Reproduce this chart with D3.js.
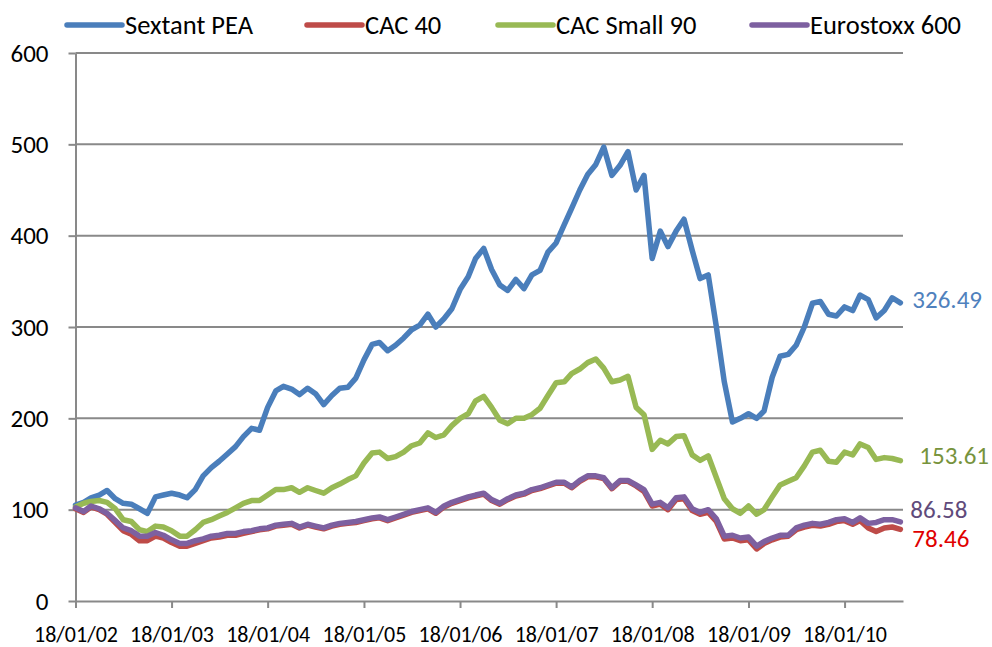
<!DOCTYPE html>
<html>
<head>
<meta charset="utf-8">
<script src="https://cdn.jsdelivr.net/npm/d3@7"></script>
<style>
  body { margin: 0; background: #fff; }
  svg { display: block; font-family: Carlito, Calibri, "Liberation Sans", Arial, sans-serif; }
  .axis path, .axis line { stroke: #898989; stroke-width: 2; }
  .grid line { stroke: #898989; stroke-width: 2; }
  .line { fill: none; stroke-width: 5.5; stroke-linejoin: round; stroke-linecap: round; }
</style>
</head>
<body>
<div id="app"></div>
<script>
const W = 992, H = 647;

// series names / colours
const seriesNames  = ["Sextant PEA", "CAC 40", "CAC Small 90", "Eurostoxx 600"];
const seriesColors = ["#4a7ebb", "#be4b48", "#98b954", "#7d60a0"];
const labelColors  = ["#4f81bd", "#e00000", "#77933c", "#604a7b"];

// monthly points, first one on 18/01/02
const startDate = new Date(2002, 0, 18);

const sextant = [
  105, 108, 113, 116, 121, 112, 107, 106, 101, 96, 114, 116,
  118, 116, 113, 122, 137, 146, 153, 161, 169, 180, 189, 187,
  212, 230, 235, 232, 226, 233, 227, 215, 225, 233, 234, 244,
  264, 281, 283, 274, 280, 288, 297, 302, 314, 300, 309, 320,
  341, 355, 375, 386, 363, 346, 340, 352, 342, 357, 362, 382,
  392, 412, 430, 450, 467, 478, 497, 466, 477, 492, 450, 466,
  375, 405, 388, 405, 418, 384, 353, 357, 300, 240, 196, 200,
  205, 200, 208, 245, 268, 270, 280, 300, 326, 328, 314, 312,
  322, 318, 335, 330, 310, 318, 332, 326.49
];
const cac40 = [
  101, 97, 103, 100, 95, 86, 77, 73, 66, 66, 71, 69,
  64, 60, 60, 63, 66, 69, 70, 72, 72, 74, 76, 78,
  79, 82, 83, 84, 80, 83, 81, 79, 82, 84, 85, 86,
  88, 90, 91, 88, 91, 94, 97, 99, 101, 96, 103, 107,
  110, 113, 115, 117, 110, 106, 111, 115, 117, 121, 123, 126,
  129, 129, 124, 131, 136, 136, 134, 123, 131, 131, 126, 120,
  104, 106, 100, 111, 112, 99, 95, 97, 87, 68, 69, 66,
  67, 57, 63, 67, 70, 71, 78, 81, 83, 82, 84, 87,
  88, 84, 88, 80, 76, 80, 81, 78.46
];
const cacSmall = [
  103, 107, 109, 110, 108, 101, 89, 87, 78, 76, 82, 81,
  77, 71, 71, 78, 86, 89, 93, 97, 102, 107, 110, 110,
  116, 122, 122, 124, 119, 124, 121, 118, 124, 128, 133, 137,
  151, 162, 163, 156, 158, 163, 170, 173, 184, 179, 182, 192,
  200, 205, 219, 224, 212, 198, 194, 200, 200, 204, 211, 225,
  239, 240, 249, 254, 261, 265, 255, 240, 242, 246, 212, 204,
  166, 176, 172, 180, 181, 160, 154, 159, 135, 112, 101, 96,
  104, 95, 100, 114, 127, 131, 135, 148, 163, 165, 153, 152,
  163, 160, 172, 168, 155, 157, 156, 153.61
];
const eurostoxx = [
  102, 98, 104, 101, 96, 88, 80, 77, 71, 71, 75, 72,
  67, 63, 63, 66, 68, 71, 72, 74, 74, 76, 77, 79,
  80, 83, 84, 85, 81, 84, 82, 80, 83, 85, 86, 87,
  89, 91, 92, 89, 92, 95, 98, 100, 102, 97, 104, 108,
  111, 114, 116, 118, 111, 107, 112, 116, 118, 122, 124, 127,
  130, 130, 125, 132, 137, 137, 135, 124, 132, 132, 127, 122,
  106, 108, 102, 113, 114, 101, 97, 100, 90, 71, 72, 69,
  70, 60, 65, 69, 72, 72, 80, 83, 85, 84, 86, 89,
  90, 86, 91, 85, 86, 89, 89, 86.58
];
const endLabels = ["326.49", "78.46", "153.61", "86.58"];

const yTicks = [0, 100, 200, 300, 400, 500, 600];
const xTickLabels = ["18/01/02", "18/01/03", "18/01/04", "18/01/05", "18/01/06",
                     "18/01/07", "18/01/08", "18/01/09", "18/01/10"];

const allSeries = [sextant, cac40, cacSmall, eurostoxx];
const dates = d3.range(sextant.length).map(k => d3.timeMonth.offset(startDate, k));
const tickDates = xTickLabels.map((d, i) => d3.timeYear.offset(startDate, i));

const x = d3.scaleTime()
  .domain([startDate, new Date(2010, 7, 28)])
  .range([75.5, 903]);
const y = d3.scaleLinear()
  .domain([0, 600])
  .range([601, 53]);

const svg = d3.select("#app").append("svg")
  .attr("width", W)
  .attr("height", H);

/* grid */
svg.append("g")
  .attr("class", "grid")
.selectAll("line")
  .data(yTicks.filter(v => v > 0))
.enter().append("line")
  .attr("x1", 75.5).attr("x2", 903)
  .attr("y1", d => y(d)).attr("y2", d => y(d));

/* y axis */
const gy = svg.append("g")
  .attr("class", "axis")
  .attr("transform", "translate(75.5,0)")
  .call(d3.axisLeft(y).tickValues(yTicks).tickSize(7).tickSizeOuter(0).tickPadding(20));
gy.attr("font-family", null);
gy.selectAll("text").attr("font-size", 25).attr("fill", "#000");

/* x axis */
const gx = svg.append("g")
  .attr("class", "axis")
  .attr("transform", "translate(0,601)")
  .call(d3.axisBottom(x).tickValues(tickDates).tickFormat((d, i) => xTickLabels[i])
    .tickSize(7).tickSizeOuter(0).tickPadding(18));
gx.attr("font-family", null);
gx.selectAll("text").attr("font-size", 22).attr("fill", "#000");

/* lines */
const line = d3.line()
  .x((d, i) => x(dates[i]))
  .y(d => y(d))
  .curve(d3.curveLinear);

svg.selectAll(".line")
  .data(allSeries)
.enter().append("path")
  .attr("class", "line")
  .attr("stroke", (d, i) => seriesColors[i])
  .attr("d", line);

/* end labels, nudged apart like the data labels of the original */
const labelShift = [[12, -4], [12, 9], [19, -5], [10, -13]];
svg.selectAll(".endlabel")
  .data(allSeries)
.enter().append("text")
  .attr("class", "endlabel")
  .attr("x", (d, i) => x(dates[d.length - 1]) + labelShift[i][0])
  .attr("y", (d, i) => y(d[d.length - 1]) + labelShift[i][1])
  .attr("dy", "0.35em")
  .attr("font-size", 25)
  .attr("fill", (d, i) => labelColors[i])
  .text((d, i) => endLabels[i]);

/* legend */
const legendX = [67, 307, 498, 752];
const legend = svg.selectAll(".legend")
  .data(seriesNames)
.enter().append("g")
  .attr("class", "legend")
  .attr("transform", (d, i) => `translate(${legendX[i]},25)`);
legend.append("line")
  .attr("x1", 0).attr("x2", 55)
  .attr("stroke", (d, i) => seriesColors[i])
  .attr("stroke-width", 5.5)
  .attr("stroke-linecap", "round");
legend.append("text")
  .attr("x", 58)
  .attr("dy", "0.35em")
  .attr("font-size", 26.5)
  .text(d => d);
</script>
</body>
</html>
